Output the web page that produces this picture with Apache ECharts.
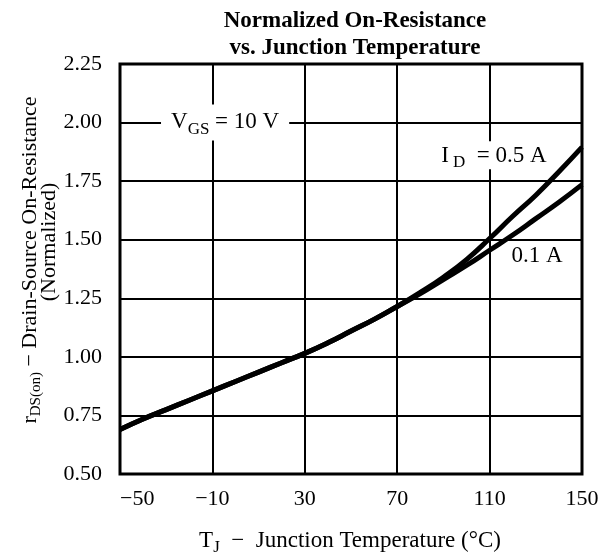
<!DOCTYPE html>
<html>
<head>
<meta charset="utf-8">
<script src="https://cdn.jsdelivr.net/npm/echarts@6/dist/echarts.min.js"></script>
<style>
  html, body { margin: 0; padding: 0; background: #fff; }
  #chart { width: 612px; height: 554px; }
</style>
</head>
<body>
<div id="chart"></div>
<script>
// junction temperature, degC
var temps = [-50, -40, -30, -20, -10, 0, 10, 20, 30, 40, 50, 60, 70, 80, 90, 100, 110, 120, 130, 140, 150];
// normalized rDS(on), ID = 0.1 A
var r01 = [0.69, 0.735, 0.775, 0.815, 0.855, 0.895, 0.935, 0.975, 1.015, 1.06, 1.11, 1.16, 1.215, 1.27, 1.33, 1.39, 1.455, 1.52, 1.59, 1.66, 1.735];
// normalized rDS(on), ID = 0.5 A
var r05 = [0.69, 0.735, 0.775, 0.815, 0.855, 0.895, 0.935, 0.975, 1.015, 1.06, 1.11, 1.16, 1.215, 1.275, 1.34, 1.415, 1.505, 1.6, 1.69, 1.79, 1.895];

var xTicks = [-50, -10, 30, 70, 110, 150];
var yTicks = [0.50, 0.75, 1.00, 1.25, 1.50, 1.75, 2.00, 2.25];

var serif = 'Liberation Serif';

function pairs(xs, ys) {
    var out = [];
    for (var i = 0; i < xs.length; i++) out.push([xs[i], ys[i]]);
    return out;
}

var chart = echarts.init(document.getElementById('chart'));

var option = {
    animation: false,
    backgroundColor: '#fff',
    title: {
        text: 'Normalized On-Resistance\nvs. Junction Temperature',
        left: 350,
        top: 3,
        textAlign: 'center',
        textStyle: {
            fontFamily: serif,
            fontWeight: 'bold',
            fontSize: 23,
            lineHeight: 27,
            color: '#000'
        }
    },
    grid: {
        left: 120,
        right: 30,
        top: 64,
        bottom: 80,
        show: true,
        borderColor: '#000',
        borderWidth: 3,
        backgroundColor: 'transparent'
    },
    xAxis: {
        type: 'value',
        min: xTicks[0],
        max: xTicks[xTicks.length - 1],
        interval: 40,
        axisLine: { show: false },
        axisTick: { show: false },
        splitLine: { show: true, lineStyle: { color: '#000', width: 2 } },
        axisLabel: {
            margin: 14,
            fontFamily: serif,
            fontSize: 22,
            color: '#000',
            alignMinLabel: 'left',
            formatter: function (v) { return v < 0 ? '\u2212' + Math.abs(v) : String(v); }
        }
    },
    yAxis: {
        type: 'value',
        min: yTicks[0],
        max: yTicks[yTicks.length - 1],
        interval: 0.25,
        axisLine: { show: false },
        axisTick: { show: false },
        splitLine: { show: true, lineStyle: { color: '#000', width: 2 } },
        axisLabel: {
            margin: 18,
            fontFamily: serif,
            fontSize: 22,
            color: '#000',
            formatter: function (v) { return v.toFixed(2); }
        }
    },
    series: [
        {
            name: '0.1 A',
            type: 'line',
            smooth: true,
            symbol: 'none',
            lineStyle: { color: '#000', width: 5 },
            data: pairs(temps, r01)
        },
        {
            name: '0.5 A',
            type: 'line',
            smooth: true,
            symbol: 'none',
            lineStyle: { color: '#000', width: 5 },
            data: pairs(temps, r05)
        }
    ]
};
chart.setOption(option);

var rich = {
    n: { fontFamily: serif, fontSize: 23, color: '#000', lineHeight: 24, verticalAlign: 'top' },
    s: { fontFamily: serif, fontSize: 17, color: '#000', lineHeight: 18, padding: [10, 0, 0, 0], verticalAlign: 'top' },
    m: { fontFamily: serif, fontSize: 22, color: '#000', lineHeight: 24, verticalAlign: 'top' },
    ms: { fontFamily: serif, fontSize: 15, color: '#000', lineHeight: 16, padding: [10, 0, 0, 0], verticalAlign: 'top' }
};

function note(x, y, str, pad) {
    var p = chart.convertToPixel({ gridIndex: 0 }, [x, y]);
    return {
        type: 'text',
        x: p[0],
        y: p[1],
        z: 10,
        style: {
            text: str,
            rich: rich,
            align: 'center',
            verticalAlign: 'middle',
            backgroundColor: pad ? '#fff' : 'transparent',
            padding: pad || 0
        }
    };
}

chart.setOption({
    graphic: [
        note(-4.5, 2.0, '{n|V}{s|GS}{n| = 10 V}', [6, 10, 6, 10]),
        note(111, 1.86, '{n|I}{s| D}{n|  = 0.5 A}', [3, 2, 1, 6]),
        note(130.5, 1.43, '{n|0.1 A}', null),
        {
            type: 'text',
            x: 350,
            y: 541,
            style: {
                text: '{n|T}{s|J}{n|  \u2212  Junction Temperature (\u00b0C)}',
                rich: rich,
                align: 'center',
                verticalAlign: 'middle'
            }
        },
        {
            type: 'text',
            x: 31,
            y: 260,
            rotation: Math.PI / 2,
            style: {
                text: '{m|r}{ms|DS(on)}{m| \u2212 Drain-Source On-Resistance}',
                rich: rich,
                align: 'center',
                verticalAlign: 'middle'
            }
        },
        {
            type: 'text',
            x: 50,
            y: 242,
            rotation: Math.PI / 2,
            style: {
                text: '{m|(Normalized)}',
                rich: rich,
                align: 'center',
                verticalAlign: 'middle'
            }
        }
    ]
});
</script>
</body>
</html>
